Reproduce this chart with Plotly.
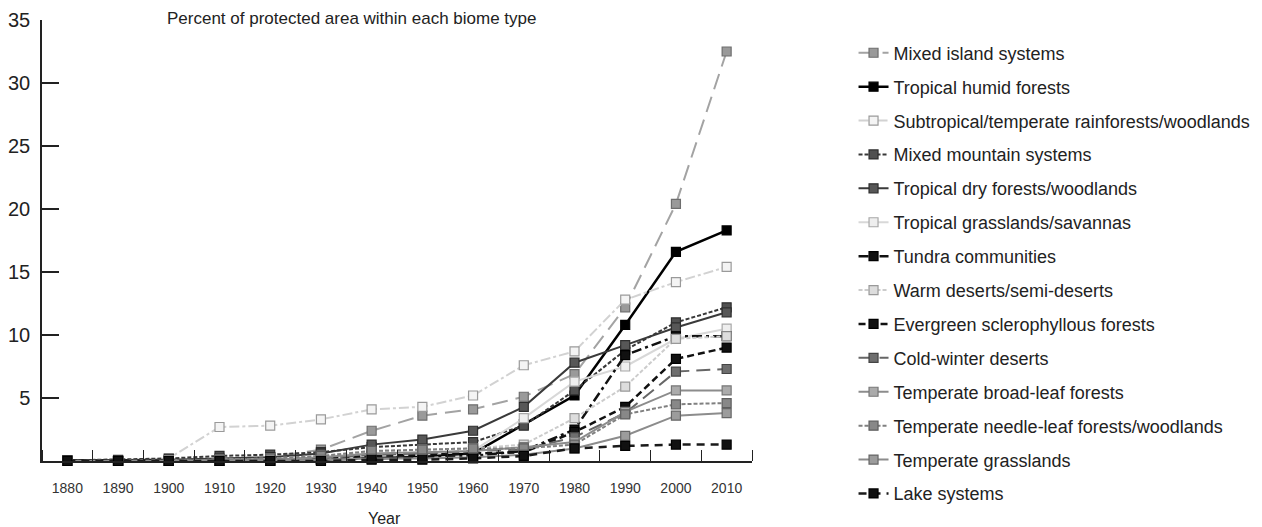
import plotly.graph_objects as go

years = [1880, 1890, 1900, 1910, 1920, 1930, 1940, 1950, 1960, 1970, 1980, 1990, 2000, 2010]

mixed_island = [0.05, 0.05, 0.1, 0.15, 0.3, 0.9, 2.4, 3.6, 4.1, 5.1, 6.9, 12.2, 20.4, 32.5]
tropical_humid = [0.0, 0.0, 0.0, 0.0, 0.0, 0.1, 0.3, 0.4, 0.6, 2.9, 5.2, 10.8, 16.6, 18.3]
subtropical = [0.05, 0.05, 0.2, 2.7, 2.8, 3.3, 4.1, 4.3, 5.2, 7.6, 8.7, 12.8, 14.2, 15.4]
mixed_mountain = [0.05, 0.1, 0.2, 0.4, 0.5, 0.7, 1.1, 1.3, 1.5, 2.8, 5.6, 8.8, 11.0, 12.2]
tropical_dry = [0.05, 0.05, 0.1, 0.2, 0.3, 0.6, 1.3, 1.7, 2.4, 4.3, 7.8, 9.2, 10.6, 11.8]
tropical_grass = [0.0, 0.0, 0.0, 0.1, 0.1, 0.2, 0.4, 0.5, 0.8, 3.4, 6.3, 7.5, 9.7, 10.5]
tundra = [0.0, 0.0, 0.0, 0.0, 0.0, 0.1, 0.2, 0.3, 0.4, 0.8, 2.5, 8.4, 9.9, 9.9]
warm_deserts = [0.0, 0.0, 0.05, 0.1, 0.2, 0.4, 0.7, 0.9, 1.0, 1.3, 3.4, 5.9, 9.7, 9.9]
evergreen = [0.0, 0.0, 0.0, 0.05, 0.1, 0.2, 0.4, 0.5, 0.6, 0.7, 2.3, 4.3, 8.1, 9.0]
cold_winter = [0.0, 0.0, 0.0, 0.05, 0.1, 0.2, 0.5, 0.6, 0.8, 0.9, 1.9, 3.8, 7.1, 7.3]
temp_broadleaf = [0.0, 0.0, 0.0, 0.1, 0.1, 0.3, 0.6, 0.7, 0.8, 1.1, 1.5, 3.9, 5.6, 5.6]
temp_needleleaf = [0.0, 0.0, 0.0, 0.1, 0.2, 0.4, 0.8, 0.9, 1.0, 1.0, 1.3, 3.7, 4.5, 4.6]
temp_grass = [0.0, 0.0, 0.0, 0.0, 0.0, 0.1, 0.2, 0.2, 0.3, 0.5, 1.0, 2.0, 3.6, 3.8]
lake = [0.0, 0.0, 0.0, 0.0, 0.0, 0.0, 0.1, 0.1, 0.2, 0.4, 1.0, 1.2, 1.3, 1.3]

ytick_vals = [5, 10, 15, 20, 25, 30, 35]

# name, values, line colour, dash, width, marker fill, marker outline
series = [
    ("Mixed island systems", mixed_island, "#a3a3a3", "16px,8px", 2, "#9a9a9a", "#6e6e6e"),
    ("Tropical humid forests", tropical_humid, "#000000", "solid", 2.5, "#000000", "#000000"),
    ("Subtropical/temperate rainforests/woodlands", subtropical, "#d2d2d2", "10px,3px,3px,3px", 2, "#f4f4f4", "#9a9a9a"),
    ("Mixed mountain systems", mixed_mountain, "#383838", "4px,2px", 2, "#505050", "#2e2e2e"),
    ("Tropical dry forests/woodlands", tropical_dry, "#3a3a3a", "solid", 2, "#575757", "#2e2e2e"),
    ("Tropical grasslands/savannas", tropical_grass, "#d8d8d8", "solid", 2, "#eeeeee", "#a8a8a8"),
    ("Tundra communities", tundra, "#111111", "10px,4px,3px,4px", 2.5, "#111111", "#000000"),
    ("Warm deserts/semi-deserts", warm_deserts, "#cccccc", "4px,2px", 2, "#dddddd", "#999999"),
    ("Evergreen sclerophyllous forests", evergreen, "#111111", "7px,4px", 2.5, "#111111", "#000000"),
    ("Cold-winter deserts", cold_winter, "#666666", "14px,7px", 2, "#6e6e6e", "#444444"),
    ("Temperate broad-leaf forests", temp_broadleaf, "#8c8c8c", "solid", 2, "#ababab", "#777777"),
    ("Temperate needle-leaf forests/woodlands", temp_needleleaf, "#808080", "4px,2px", 2, "#888888", "#5e5e5e"),
    ("Temperate grasslands", temp_grass, "#8c8c8c", "solid", 2, "#9c9c9c", "#666666"),
    ("Lake systems", lake, "#1a1a1a", "8px,6px", 2.5, "#111111", "#000000"),
]

fig = go.Figure()

for i, (name, values, color, dash, width, fill, outline) in enumerate(series):
    fig.add_trace(
        go.Scatter(
            x=years,
            y=values,
            mode="lines+markers",
            name=name,
            legendgroup=f"g{i}",
            line={"color": color, "dash": dash, "width": width},
            marker={"symbol": "square", "size": 9, "color": fill, "line": {"color": outline, "width": 1.2}},
            cliponaxis=False,
        )
    )

fig.update_layout(
    width=1262,
    height=527,
    margin={"l": 42, "r": 510, "t": 20, "b": 66, "autoexpand": False},
    paper_bgcolor="#ffffff",
    plot_bgcolor="#ffffff",
    font={"family": "Liberation Sans, Arial, sans-serif", "color": "#222222"},
    xaxis={
        "range": [1875, 2015],
        "tickvals": years,
        "ticks": "",
        "automargin": False,
        "showgrid": False,
        "zeroline": False,
        "showline": True,
        "linecolor": "#222222",
        "linewidth": 1.5,
        "ticklabelstandoff": 13,
        "tickfont": {"size": 14, "color": "#333333"},
        "minor": {"ticks": "inside", "tick0": 1885, "dtick": 10, "ticklen": 11, "tickcolor": "#222222", "tickwidth": 1.3},
    },
    yaxis={
        "range": [0, 35],
        "tickvals": ytick_vals,
        "ticks": "inside",
        "ticklen": 17,
        "tickwidth": 1.5,
        "tickcolor": "#222222",
        "automargin": False,
        "showgrid": False,
        "zeroline": False,
        "showline": True,
        "linecolor": "#222222",
        "linewidth": 1.5,
        "ticklabelstandoff": 6,
        "tickfont": {"size": 20, "color": "#222222"},
    },
    legend={
        "x": 1.143,
        "y": 0.967,
        "xanchor": "left",
        "yanchor": "top",
        "font": {"size": 18, "color": "#222222"},
        "tracegroupgap": 7.5,
        "itemwidth": 30,
        "maxheight": 520,
        "bgcolor": "rgba(0,0,0,0)",
    },
)

fig.add_annotation(
    x=0.0, y=1.0, xref="paper", yref="paper", xanchor="left", yanchor="middle",
    xshift=123, yshift=2, text="Percent of protected area within each biome type", showarrow=False,
    font={"size": 17, "color": "#222222"},
)
fig.add_annotation(
    x=0.483, y=-0.13, xref="paper", yref="paper", xanchor="center", yanchor="middle",
    text="Year", showarrow=False, font={"size": 16, "color": "#222222"},
)

# the page body has a default 8px margin; drop it so the figure sits at the window corner
fig.write_html(
    "out.html",
    config={"displayModeBar": False},
    post_script="document.body.style.margin = '0px';",
)
